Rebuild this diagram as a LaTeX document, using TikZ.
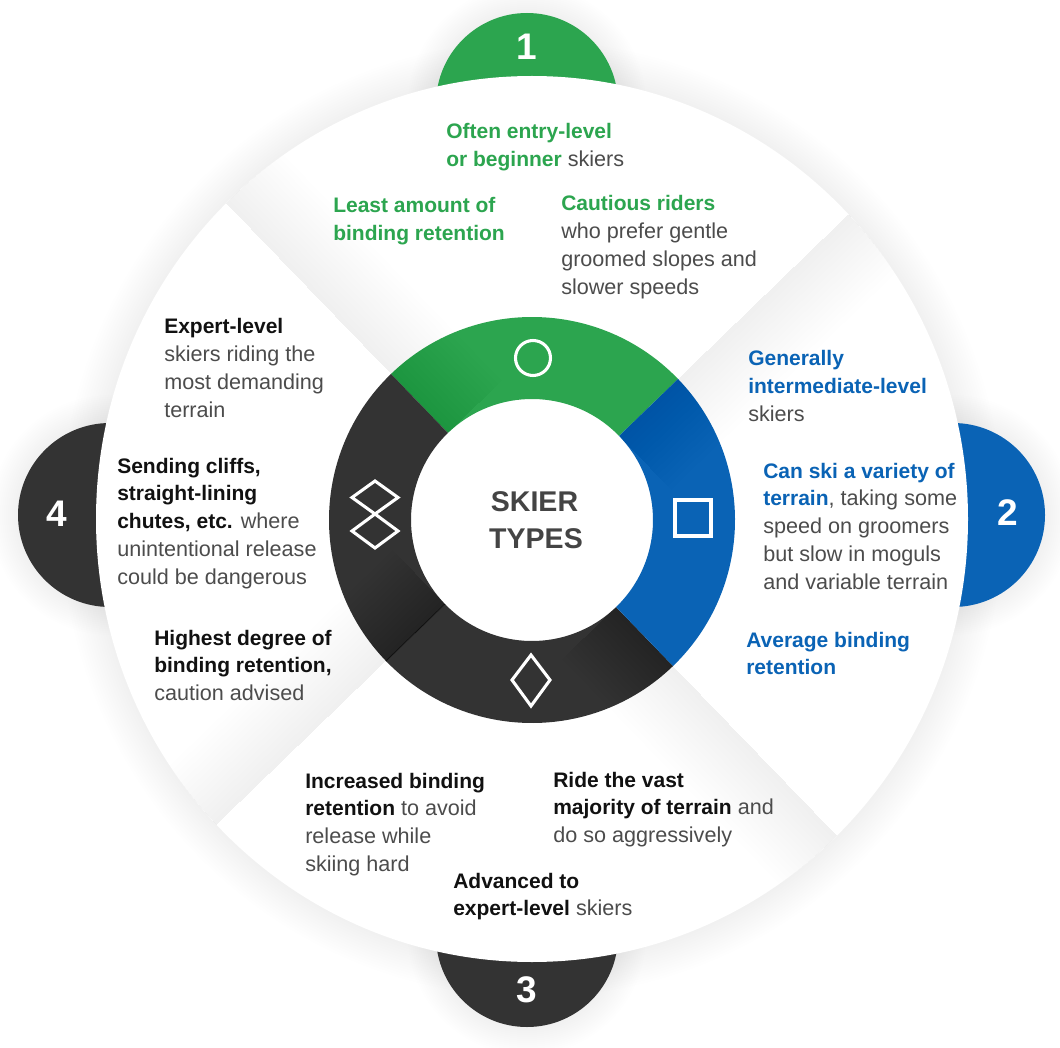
\documentclass[tikz,border=0pt]{standalone}
\usepackage{fontspec}
\setmainfont{Liberation Sans}
\definecolor{sgreen}{HTML}{2CA54F}
\definecolor{sblue}{HTML}{0A63B5}
\definecolor{sdark}{HTML}{333333}
\definecolor{tgray}{HTML}{4C4C4C}
\definecolor{tblack}{HTML}{111111}
\definecolor{ctext}{HTML}{444444}
\newcommand\rgfont{\fontsize{16.2}{20}\selectfont}
\newcommand\hgreen[1]{{\fontsize{15.75}{20}\selectfont\bfseries\color{sgreen}#1}}
\newcommand\hblue[1]{{\fontsize{15.75}{20}\selectfont\bfseries\color{sblue}#1}}
\newcommand\hblack[1]{{\fontsize{15.75}{20}\selectfont\bfseries\color{tblack}#1}}
\newcommand\annsec[3]{\fill[#1] (#2:203) arc[start angle=#2,end angle=#3,radius=203] -- (#3:121) arc[start angle=#3,end angle=#2,radius=121] -- cycle;}
\newcommand\tblock[4]{\foreach \l [count=\i] in {#4} {\node[txt] (#1-\i) at (#2, {-(#3+(\i-1)*27.8)}) {\l};}}
\begin{document}
\begin{tikzpicture}[x=0.75pt,y=0.75pt,
  txt/.style={inner sep=0pt, anchor=base west, font=\rgfont, text=tgray},
  tabnum/.style={inner sep=0pt, text=white, font=\fontsize{27.75}{30}\selectfont\bfseries},
  icon/.style={draw=white, line width=2.3pt, line join=miter}]
\useasboundingbox (0,0) rectangle (1060,-1048);
\fill[white] (0,0) rectangle (1060,-1048);
% soft shadows
\foreach \k in {1,...,14} {
  \fill[black, opacity=0.005] (532,-519) ellipse [x radius={436+2.5*\k}, y radius={443+2.5*\k}];
  \fill[black, opacity=0.004] (527,-104) circle ({91+2*\k});
  \fill[black, opacity=0.004] (953,-515) circle ({92+2*\k});
  \fill[black, opacity=0.004] (527,-936) circle ({91+2*\k});
  \fill[black, opacity=0.004] (110,-515) circle ({92+2*\k});
}
% tabs
\fill[sgreen] (527,-104) circle (91);
\fill[sblue] (953,-515) circle (92);
\fill[sdark] (527,-936) circle (91);
\fill[sdark] (110,-515) circle (92);
\node[tabnum] (n1) at (527,-47) {1};
\node[tabnum] (n2) at (1008,-513) {2};
\node[tabnum] (n3) at (527,-990) {3};
\node[tabnum] (n4) at (57,-514) {4};
% big circle
\fill[white] (532,-519) ellipse [x radius=436, y radius=443];
% ring
\begin{scope}[shift={(532,-520)}]
  \annsec{sgreen}{44}{134}
  \annsec{sdark}{134}{224}
  \annsec{sdark}{224}{314}
  \annsec{sblue}{-46}{44}
  \draw[line width=0.8pt, color=black!88] (224:121) -- (224:203);
\end{scope}
% pinwheel shading
\begin{scope}
  \clip (532,-519) ellipse [x radius=436, y radius=443];
  \foreach \a in {44,134,224,314} {
    \begin{scope}[shift={(532,-520)}, rotate=\a]
      \foreach \w in {5,10,...,75} \fill[black, opacity=0.0035] (121,0) rectangle (470,-\w);
    \end{scope}
  }
\end{scope}
% icons
\draw[icon] (533,-358) circle (17.5);
\draw[icon] (675,-500) rectangle (711,-536);
\draw[icon] (531,-655) -- (550,-680) -- (531,-706) -- (512,-680) -- cycle;
\draw[icon] (375,-481) -- (398,-497.5) -- (375,-514) -- (352,-497.5) -- cycle;
\draw[icon] (375,-514) -- (398,-531) -- (375,-548) -- (352,-531) -- cycle;
% centre
\node[inner sep=0pt, text=ctext, font=\fontsize{21.4}{24}\selectfont\bfseries] (c1) at (534.5,-501.5) {SKIER};
\node[inner sep=0pt, text=ctext, font=\fontsize{21.4}{24}\selectfont\bfseries] (c2) at (536,-539) {TYPES};
% texts
\tblock{a}{446}{139}{{\hgreen{Often entry-level}},{\hgreen{or beginner} skiers}}
\tblock{b}{333}{213}{{\hgreen{Least amount of}},{\hgreen{binding retention}}}
\tblock{c}{561}{211}{{\hgreen{Cautious riders}},{who prefer gentle},{groomed slopes and},{slower speeds}}
\tblock{d}{748}{366}{{\hblue{Generally}},{\hblue{intermediate-level}},{skiers}}
\tblock{e}{763}{478}{{\hblue{Can ski a variety of}},{\hblue{terrain}, taking some},{speed on groomers},{but slow in moguls},{and variable terrain}}
\tblock{f}{746}{647}{{\hblue{Average binding}},{\hblue{retention}}}
\tblock{g}{305}{788}{{\hblack{Increased binding}},{\hblack{retention} to avoid},{release while},{skiing hard}}
\tblock{h}{553}{787}{{\hblack{Ride the vast}},{\hblack{majority of terrain} and},{do so aggressively}}
\tblock{i}{453}{888}{{\hblack{Advanced to}},{\hblack{expert-level} skiers}}
\tblock{j}{164}{334}{{\hblack{Expert-level}},{skiers riding the},{most demanding},{terrain}}
\tblock{k}{117}{473}{{\hblack{Sending cliffs,}},{\hblack{straight-lining}},{\hblack{chutes, etc.} where},{unintentional release},{could be dangerous}}
\tblock{l}{154}{645}{{\hblack{Highest degree of}},{\hblack{binding retention,}},{caution advised}}
\end{tikzpicture}
\end{document}
